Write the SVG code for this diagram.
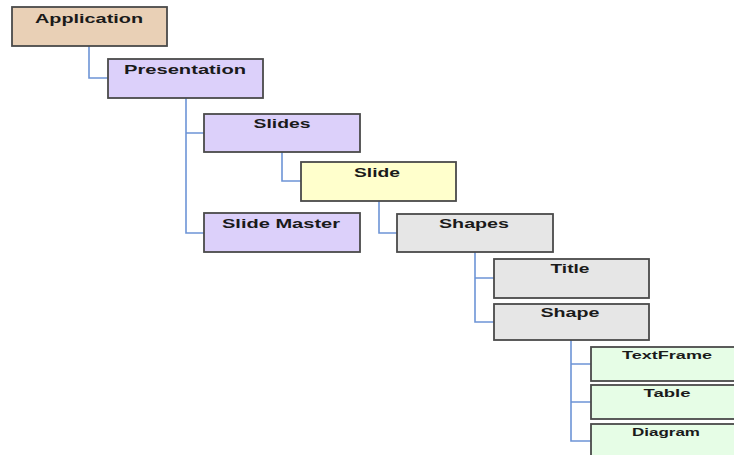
<svg xmlns="http://www.w3.org/2000/svg" width="734" height="455" viewBox="0 0 734 455">
<style>
.box{stroke:#4a4a4a;stroke-width:1.8}
.app{fill:#e9d0b6}
.pres{fill:#dcd0fa}
.slide{fill:#ffffcc}
.gray{fill:#e6e6e6}
.green{fill:#e6fde6}
.t{font-family:"Liberation Sans",Arial,sans-serif;font-weight:bold;font-size:13px;fill:#1a1a1a;text-anchor:middle}
.s{font-size:11px}
.c{fill:none;stroke:#6d94d6;stroke-width:1.6}
</style>
<rect width="734" height="455" fill="#ffffff"/>
<g id="connectors">
<path class="c" d="M89 46 V78 H108"/>
<path class="c" d="M186 98 V233 H204 M186 133 H204"/>
<path class="c" d="M282 152 V181 H301"/>
<path class="c" d="M379 201 V233 H397"/>
<path class="c" d="M475 252 V322 H494 M475 278 H494"/>
<path class="c" d="M571 340 V441 H591 M571 364 H591 M571 402 H591"/>
</g>
<g id="application"><rect class="box app" x="12" y="7" width="155" height="39"/><text class="t" x="89" y="23" textLength="108" lengthAdjust="spacingAndGlyphs">Application</text></g>
<g id="presentation"><rect class="box pres" x="108" y="59" width="155" height="39"/><text class="t" x="185" y="74" textLength="122" lengthAdjust="spacingAndGlyphs">Presentation</text></g>
<g id="slides"><rect class="box pres" x="204" y="114" width="156" height="38"/><text class="t" x="282" y="128" textLength="57" lengthAdjust="spacingAndGlyphs">Slides</text></g>
<g id="slide"><rect class="box slide" x="301" y="162" width="155" height="39"/><text class="t" x="377" y="177" textLength="46" lengthAdjust="spacingAndGlyphs">Slide</text></g>
<g id="slidemaster"><rect class="box pres" x="204" y="213" width="156" height="39"/><text class="t" x="281" y="228" textLength="118" lengthAdjust="spacingAndGlyphs">Slide Master</text></g>
<g id="shapes"><rect class="box gray" x="397" y="214" width="156" height="38"/><text class="t" x="474" y="228" textLength="70" lengthAdjust="spacingAndGlyphs">Shapes</text></g>
<g id="title"><rect class="box gray" x="494" y="259" width="155" height="39"/><text class="t" x="570" y="273" textLength="39" lengthAdjust="spacingAndGlyphs">Title</text></g>
<g id="shape"><rect class="box gray" x="494" y="304" width="155" height="36"/><text class="t" x="570" y="317" textLength="59" lengthAdjust="spacingAndGlyphs">Shape</text></g>
<g id="textframe"><rect class="box green" x="591" y="347" width="155" height="34"/><text class="t s" x="667" y="359" textLength="90" lengthAdjust="spacingAndGlyphs">TextFrame</text></g>
<g id="table"><rect class="box green" x="591" y="385" width="155" height="34"/><text class="t s" x="667" y="397" textLength="47" lengthAdjust="spacingAndGlyphs">Table</text></g>
<g id="diagram"><rect class="box green" x="591" y="424" width="155" height="40"/><text class="t s" x="666" y="436" textLength="68" lengthAdjust="spacingAndGlyphs">Diagram</text></g>
</svg>
